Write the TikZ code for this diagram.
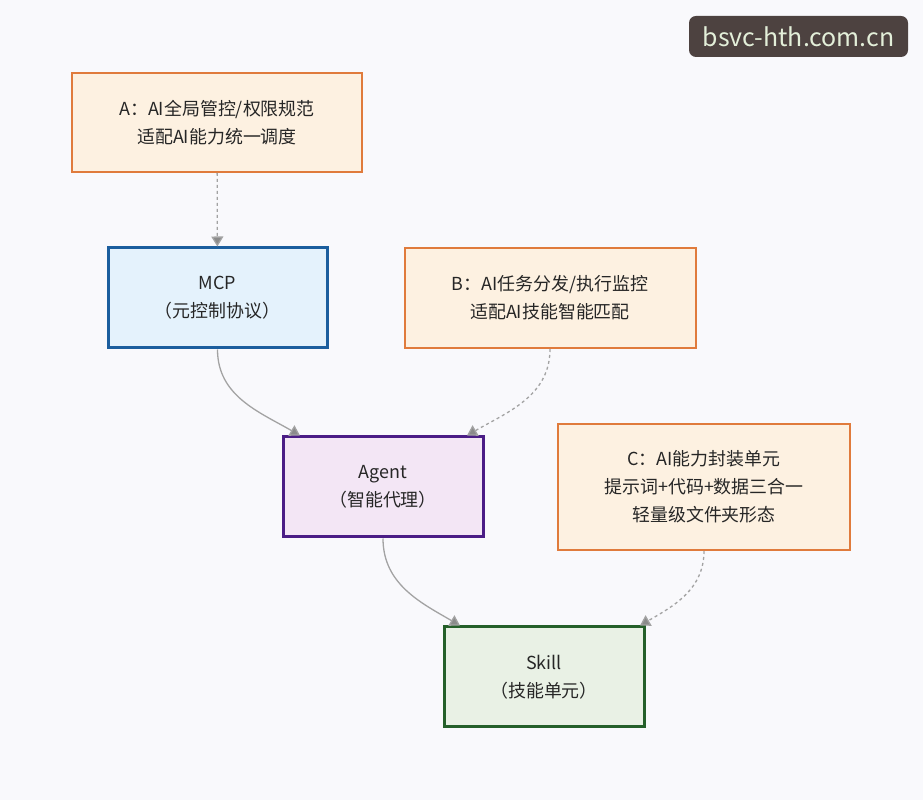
\documentclass[tikz,border=0pt]{standalone}
\usepackage{fontspec}
\setmainfont{Noto Sans CJK SC}
\usepackage{tikz}
\usetikzlibrary{arrows.meta}
\usetikzlibrary{positioning}

\definecolor{bgcol}{HTML}{F9F9FC}
\definecolor{notefill}{HTML}{FDF1E1}
\definecolor{notedraw}{HTML}{E07B3C}
\definecolor{mcpfill}{HTML}{E4F2FC}
\definecolor{mcpdraw}{HTML}{1B5E9E}
\definecolor{agentfill}{HTML}{F3E6F5}
\definecolor{agentdraw}{HTML}{4B1D86}
\definecolor{skillfill}{HTML}{E9F1E5}
\definecolor{skilldraw}{HTML}{25602A}
\definecolor{linkcol}{HTML}{A3A3A3}
\definecolor{wmfill}{HTML}{4D4240}
\definecolor{wmtext}{HTML}{E3EFD9}

\tikzset{
  box/.style={draw, align=center, inner sep=0pt, minimum height=100bp,
    text=black!85, font=\fontsize{18}{28}\selectfont},
  notebox/.style={box, fill=notefill, draw=notedraw, line width=2bp},
  link/.style={draw=linkcol, line width=1.3bp,
    -{Triangle[length=10bp,width=12bp,fill=linkcol!85!black]}},
  hint/.style={link, dash pattern=on 3bp off 3bp}
}

\begin{document}
\begin{tikzpicture}[x=1bp, y=1bp]
  \fill[bgcol] (0,0) rectangle (923,800);
  \useasboundingbox (0,0) rectangle (923,800);

  \node (wm) [fill=wmfill, rounded corners=7bp, text=wmtext, minimum width=219bp,
    minimum height=41bp, inner sep=0pt, font=\fontsize{25}{25}\selectfont]
    at (798.5,763.5) {bsvc-hth.com.cn};

  \node (iA) [notebox, minimum width=290bp, minimum height=99bp] at (217,677.5)
    {A：AI全局管控/权限规范\\适配AI能力统一调度};
  \node (iMCP) [box, fill=mcpfill, draw=mcpdraw, line width=3bp, minimum width=219bp]
    at (217.5,502) {MCP\\（元控制协议）};
  \node (iB) [notebox, minimum width=291bp, right=75bp of iMCP]
    {B：AI任务分发/执行监控\\适配AI技能智能匹配};
  \node (iAgent) [box, fill=agentfill, draw=agentdraw, line width=3bp, minimum width=200bp]
    at (383,313) {Agent\\（智能代理）};
  \node (iC) [notebox, minimum width=292bp, minimum height=126bp] at (704,313)
    {C：AI能力封装单元\\提示词+代码+数据三合一\\轻量级文件夹形态};
  \node (iSkill) [box, fill=skillfill, draw=skilldraw, line width=3bp, minimum width=200bp]
    at (544,123) {Skill\\（技能单元）};

  \draw [hint] (iA) -- (iMCP);
  \draw [link] (iMCP.south) to[out=-90, in=150] ([xshift=-83bp]iAgent.north);
  \draw [hint] (iB.south) to[out=-90, in=30] ([xshift=84bp]iAgent.north);
  \draw [link] (iAgent.south) to[out=-90, in=150] ([xshift=-84bp]iSkill.north);
  \draw [hint] (iC.south) to[out=-90, in=30] ([xshift=96bp]iSkill.north);
\end{tikzpicture}
\end{document}
